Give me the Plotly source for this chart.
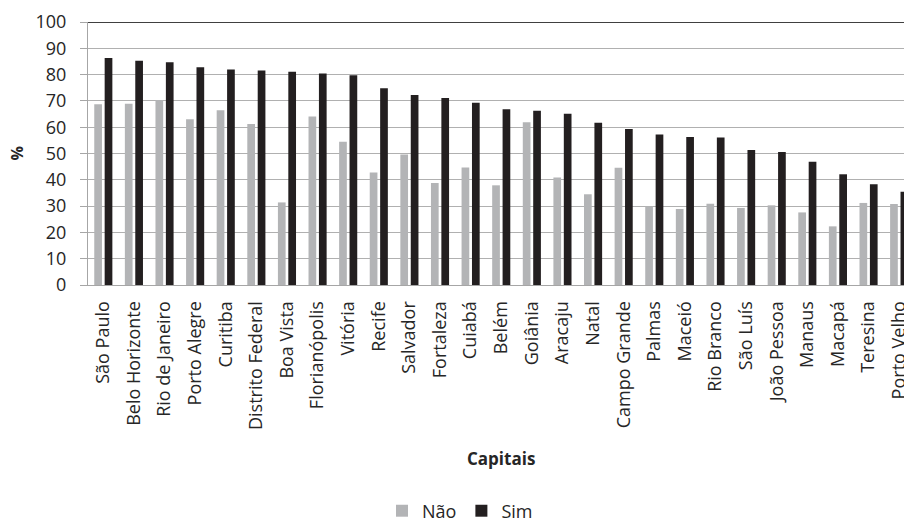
import plotly.graph_objects as go

capitais = [
    "São Paulo", "Belo Horizonte", "Rio de Janeiro", "Porto Alegre", "Curitiba",
    "Distrito Federal", "Boa Vista", "Florianópolis", "Vitória", "Recife",
    "Salvador", "Fortaleza", "Cuiabá", "Belém", "Goiânia", "Aracaju", "Natal",
    "Campo Grande", "Palmas", "Maceió", "Rio Branco", "São Luís", "João Pessoa",
    "Manaus", "Macapá", "Teresina", "Porto Velho",
]
nao = [68.7, 68.9, 70.3, 63.0, 66.4, 61.2, 31.4, 64.1, 54.5, 42.8,
       49.6, 38.8, 44.7, 37.9, 61.9, 40.9, 34.5, 44.6, 29.9, 28.9,
       30.9, 29.3, 30.3, 27.6, 22.3, 31.2, 30.8]
sim = [86.3, 85.3, 84.7, 82.8, 81.9, 81.6, 81.1, 80.4, 79.8, 74.8,
       72.2, 71.1, 69.3, 66.8, 66.3, 65.1, 61.7, 59.3, 57.2, 56.3,
       56.1, 51.3, 50.6, 46.9, 42.1, 38.3, 35.5]
y_ticks = list(range(0, 101, 10))

FONT = "Open Sans"
TXT = "#262626"
W, H = 904, 524
ML, MT, MB = 88, 22, 239
plot_w = W - ML
plot_h = H - MT - MB


def px_x(px):
    return (px - ML) / plot_w


def px_y(px):
    return (MT + plot_h - px) / plot_h


fig = go.Figure()
fig.add_trace(go.Bar(name="Não", x=capitais, y=nao,
                     marker=dict(color="#b3b4b6", line=dict(width=0))))
fig.add_trace(go.Bar(name="Sim", x=capitais, y=sim,
                     marker=dict(color="#231f20", line=dict(width=0))))

# darker line along the top of the value range
fig.add_shape(type="line", xref="paper", yref="y", x0=0, x1=1, y0=100, y1=100,
              line=dict(color="#404040", width=2))

fig.add_annotation(text="<b>Capitais</b>", xref="paper", yref="paper",
                   x=px_x(501), y=px_y(458),
                   showarrow=False, font=dict(family=FONT, size=17, color=TXT),
                   xanchor="center", yanchor="middle")
fig.add_annotation(text="<b>%</b>", xref="paper", yref="paper",
                   x=px_x(16), y=0.5, textangle=-90,
                   showarrow=False, font=dict(family=FONT, size=16, color=TXT),
                   xanchor="center", yanchor="middle")

fig.update_layout(
    width=W, height=H,
    margin=dict(l=ML, r=0, t=MT, b=MB, pad=0, autoexpand=False),
    paper_bgcolor="white", plot_bgcolor="white",
    barmode="group", bargap=0.32, bargroupgap=0.26,
    font=dict(family=FONT, size=18, color=TXT),
    showlegend=True,
    legend=dict(orientation="h", xref="container", yref="container",
                x=460 / W, y=(H - 511) / H,
                xanchor="center", yanchor="middle",
                font=dict(family=FONT, size=18, color=TXT),
                itemwidth=30, traceorder="normal", bgcolor="rgba(0,0,0,0)"),
    xaxis=dict(
        range=[-0.5, -0.5 + plot_w / 30.61],
        tickangle=-90, showgrid=False,
        ticks="outside", ticklen=8, tickcolor="rgba(0,0,0,0)",
        showline=True, linecolor="#a6a6a6", linewidth=1,
        tickfont=dict(family=FONT, size=18, color=TXT),
        fixedrange=True,
    ),
    yaxis=dict(
        range=[0, 100], tickmode="array", tickvals=y_ticks,
        showgrid=True, gridcolor="#b0b0b0", gridwidth=1,
        zeroline=False, showline=True, linecolor="#a6a6a6", linewidth=1,
        ticks="outside", ticklen=7, tickcolor="#a6a6a6",
        ticklabelstandoff=10,
        tickfont=dict(family=FONT, size=18, color=TXT),
        fixedrange=True,
    ),
)

fig.write_html("out.html")
